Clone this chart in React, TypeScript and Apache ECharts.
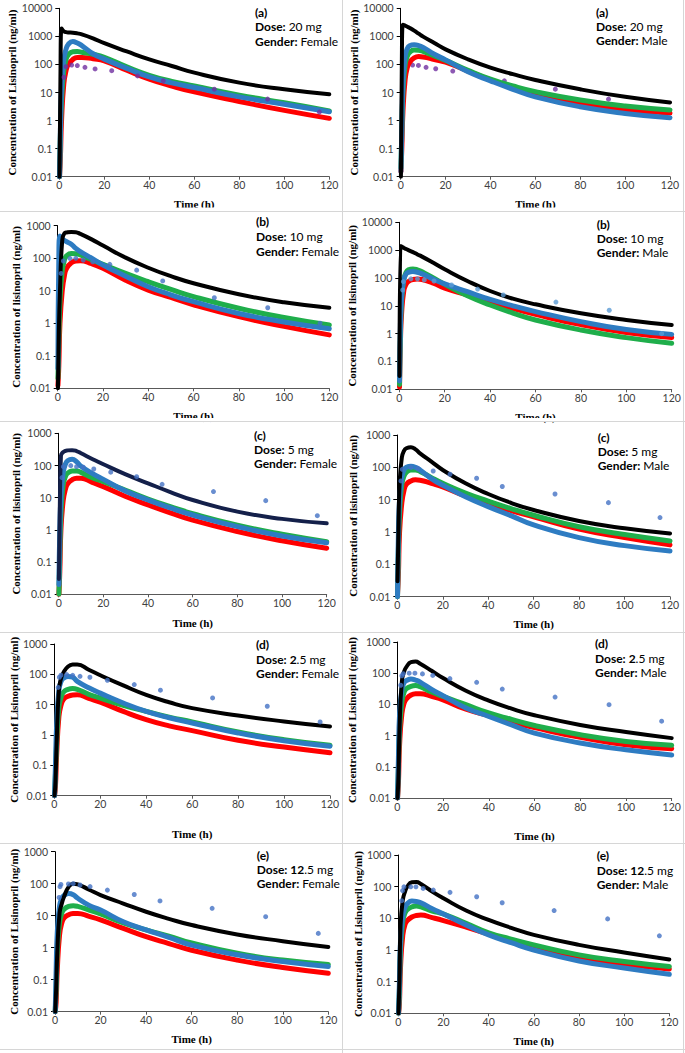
import React, { useEffect, useRef } from "react";
import * as echarts from "echarts";

// Model sampling times (h) shared by all simulated curves
const modelTimes = [0.1, 0.5, 1, 2, 3, 4, 6, 8, 10, 15, 20, 30, 40, 50, 60, 80, 100, 120];
const xTicks = [0, 20, 40, 60, 80, 100, 120];

// (a) 20 mg Female
const f20Black = [0.01, 30, 1900, 1500, 1420, 1380, 1350, 1280, 1180, 850, 570, 290, 152, 88, 51, 22.5, 13, 8.6];
const f20Blue = [0.01, 0.5, 15, 150, 350, 520, 650, 580, 470, 240, 155, 72, 36, 22, 15, 7, 3.8, 2.05];
const f20Green = [0.01, 0.3, 5, 60, 150, 220, 285, 290, 270, 230, 180, 82, 41, 25, 17, 8, 4.3, 2.2];
const f20Red = [0.01, 0.05, 1, 20, 60, 100, 150, 178, 178, 160, 135, 62, 30, 17, 10.5, 4.8, 2.3, 1.2];
const f20Obs = [[2.1, 35], [3, 83], [5.5, 95], [8, 91], [11.4, 79], [15.9, 69], [23.3, 60], [34.8, 39], [46.2, 26], [68.9, 13.1], [92.6, 5.8], [115.6, 2.0]];

// (a) 20 mg Male
const m20Black = [0.01, 100, 2600, 2400, 2200, 2000, 1600, 1250, 980, 580, 345, 152, 77, 45, 28, 13, 7, 4.4];
const m20Blue = [0.015, 0.5, 20, 200, 380, 460, 500, 470, 400, 230, 145, 55, 26, 13, 7, 3.1, 1.8, 1.27];
const m20Green = [0.02, 0.4, 10, 100, 200, 270, 325, 320, 290, 200, 140, 62, 30, 17, 10.7, 5.4, 3.3, 2.4];
const m20Red = [0.015, 0.1, 2, 30, 80, 120, 170, 190, 185, 150, 120, 58, 28, 15, 8.9, 4.1, 2.5, 1.85];
const m20Obs = [[5.3, 95], [7.9, 92], [11.3, 79], [15.6, 70], [23.2, 58], [34.8, 39], [46.2, 26], [68.9, 13.1], [92.6, 5.8], [115.6, 2.0]];

// (b) 10 mg Female
const f10Black = [0.01, 0.5, 10, 350, 590, 620, 640, 630, 560, 380, 245, 104, 51, 28, 17, 7.8, 4.4, 3.0];
const f10Blue = [0.04, 100, 480, 400, 350, 320, 270, 200, 160, 100, 62, 28, 13.3, 7.5, 4.6, 2.0, 1.1, 0.68];
const f10Green = [0.02, 0.3, 5, 40, 90, 120, 140, 138, 126, 90, 65, 34, 19, 11, 6.6, 2.9, 1.5, 0.88];
const f10Red = [0.012, 0.05, 1, 10, 30, 50, 72, 82, 84, 68, 49, 21, 10.5, 6.2, 3.7, 1.6, 0.8, 0.44];
const f10Obs = [[1.5, 34], [2.5, 82], [5.4, 99], [8, 99], [11.3, 88], [15.5, 78], [23, 65], [34.9, 43], [46.4, 20], [69.2, 6.1], [92.8, 3.0], [115.9, 1.0]];

// (b) 10 mg Male
const m10Black = [0.03, 1400, 1350, 1200, 1100, 1000, 850, 700, 584, 350, 205, 78, 34, 18, 11.3, 5.4, 3.1, 2.04];
const m10Blue = [0.02, 2, 20, 90, 140, 160, 170, 160, 140, 90, 61, 32, 17, 10, 6.2, 2.7, 1.4, 0.94];
const m10Green = [0.015, 1, 15, 90, 160, 195, 210, 195, 169, 100, 59, 23, 10.7, 5.5, 3.1, 1.35, 0.72, 0.45];
const m10Red = [0.012, 0.5, 5, 35, 60, 75, 88, 92, 88, 65, 43, 24.5, 14, 8, 4.9, 2.1, 1.1, 0.73];
const m10Obs = [[1.5, 37], [1.8, 74], [5.1, 93], [8, 93], [11, 85], [15.3, 78], [23, 56], [34.5, 40], [45.8, 24.6], [69, 13.6], [92.5, 6.9], [115.6, 1.0]];

// (c) 5 mg Female
const f5Black = [0.03, 5, 200, 260, 285, 295, 300, 280, 240, 160, 109, 53, 28, 15, 8.5, 3.7, 2.2, 1.6];
const f5Blue = [0.02, 1, 10, 60, 110, 140, 155, 130, 95, 57, 37, 16, 8.5, 4.8, 2.9, 1.26, 0.65, 0.4];
const f5Green = [0.01, 0.2, 3, 25, 45, 58, 67, 68, 61, 42, 31.5, 17, 9.1, 5.3, 3.2, 1.4, 0.73, 0.43];
const f5Red = [0.01, 0.05, 1, 8, 18, 27, 36, 40, 40, 30, 22, 10.9, 6.0, 3.4, 2.0, 0.89, 0.46, 0.27];
const f5Obs = [[1.5, 42], [2.1, 92], [5.4, 99], [8, 92], [11, 88], [15.7, 78], [23.3, 62], [34.9, 45], [46.3, 26], [69.3, 15.5], [92.7, 8.1], [115.8, 2.76]];

// (c) 5 mg Male
const m5Black = [0.03, 1, 30, 200, 330, 390, 420, 360, 270, 150, 83, 32, 15, 8, 4.8, 2.2, 1.3, 0.9];
const m5Blue = [0.01, 1, 10, 50, 85, 100, 108, 100, 83, 45, 28, 12.4, 6.1, 3.2, 1.65, 0.67, 0.38, 0.26];
const m5Green = [0.01, 0.3, 4, 30, 55, 70, 83, 83, 75, 48, 32, 16, 9, 5.3, 3.3, 1.46, 0.84, 0.53];
const m5Red = [0.012, 0.05, 1, 8, 20, 30, 38, 41, 40, 32, 25, 13, 7.6, 4.6, 2.96, 1.23, 0.67, 0.4];
const m5Obs = [[1.6, 38], [2.2, 87], [6, 98], [9, 93], [15.8, 77], [23.2, 61], [34.9, 46], [46.2, 25.6], [69.4, 15], [92.9, 8.1], [115.6, 2.8]];

// (d) 2.5 mg Female
const f25Black = [0.01, 0.03, 0.5, 30, 76, 115, 180, 210, 212, 142, 93, 43, 21, 12, 7.7, 4.4, 2.8, 1.9];
const f25Blue = [0.01, 0.1, 2, 30, 60, 75, 85, 80, 59, 36, 24, 11.4, 6.0, 3.7, 2.5, 1.17, 0.65, 0.43];
const f25Green = [0.01, 0.05, 0.5, 8, 18, 26, 32, 34, 32, 22, 16.6, 9.5, 6.0, 3.9, 2.7, 1.26, 0.7, 0.46];
const f25Red = [0.01, 0.02, 0.2, 4, 10, 15, 19, 21, 21.4, 16, 12.2, 6, 3.2, 2.0, 1.4, 0.67, 0.4, 0.26];
const f25Obs = [[1.7, 37], [2.2, 80], [2.9, 94], [5.4, 98], [8, 93], [11.2, 86], [15.5, 80], [23.1, 64], [34.8, 46], [46.2, 30], [68.9, 16.7], [92.7, 8.9], [115.7, 2.7]];

// (d) 2.5 mg Male
const m25Black = [0.01, 0.05, 2, 55, 115, 160, 225, 235, 200, 120, 70, 27.5, 13.2, 7.3, 4.5, 2.2, 1.3, 0.83];
const m25Blue = [0.01, 0.2, 5, 30, 50, 58, 65, 60, 52, 30, 19, 7.7, 4.1, 2.2, 1.2, 0.58, 0.35, 0.24];
const m25Green = [0.01, 0.1, 1.5, 12, 25, 32, 38, 40, 37, 25, 18, 9.8, 5.3, 3.3, 2.1, 1.07, 0.65, 0.49];
const m25Red = [0.01, 0.03, 0.5, 5, 11, 15, 20, 22, 22, 18, 14, 7, 4.4, 2.7, 1.8, 0.88, 0.51, 0.38];
const m25Obs = [[1.5, 41], [2, 83], [2.6, 96], [5.2, 100], [7.7, 100], [11, 95], [15.5, 85], [23, 67], [34.7, 51], [45.9, 31], [69, 17.2], [92.6, 9.8], [115.6, 2.9]];

// (e) 12.5 mg Female
const f125Black = [0.01, 0.05, 0.7, 12, 24, 40, 80, 100, 95, 65, 44, 24, 13.3, 8, 5.1, 2.6, 1.6, 1.05];
const f125Blue = [0.01, 0.2, 3, 20, 35, 43, 49, 45, 35, 21, 15, 6.5, 3.6, 2.1, 1.2, 0.6, 0.37, 0.26];
const f125Green = [0.01, 0.05, 0.7, 6, 12, 16, 19.5, 20.5, 19.5, 15, 11.3, 6, 3.6, 2.3, 1.4, 0.67, 0.41, 0.3];
const f125Red = [0.01, 0.02, 0.2, 2.5, 6, 8.5, 10.8, 11.7, 11.8, 9.5, 7.4, 4.0, 2.2, 1.35, 0.83, 0.41, 0.24, 0.16];
const f125Obs = [[1.8, 37], [2.2, 81], [2.6, 95], [5.9, 98], [8, 100], [11, 91], [15.4, 81], [23, 63], [34.8, 46], [46.1, 29], [69, 17], [92.5, 9.3], [115.6, 2.8]];

// (e) 12.5 mg Male
const m125Black = [0.01, 0.1, 6, 38, 70, 100, 138, 140, 122, 70, 43, 17.6, 8.9, 5, 3.0, 1.45, 0.83, 0.5];
const m125Blue = [0.01, 0.1, 2, 12, 22, 29, 35, 34, 31, 20, 13.7, 6.2, 3.0, 1.7, 1.0, 0.45, 0.27, 0.17];
const m125Green = [0.01, 0.05, 1, 8, 15, 19, 23, 24.5, 23, 17, 13.7, 7, 3.5, 2.2, 1.45, 0.7, 0.43, 0.3];
const m125Red = [0.01, 0.02, 0.3, 3, 6.5, 8.5, 11, 12.3, 12.7, 10.5, 8.5, 5.3, 3.2, 2.0, 1.2, 0.59, 0.36, 0.25];
const m125Obs = [[1.5, 36], [1.9, 75], [2.5, 99], [5.5, 99], [7.8, 99], [11, 88], [15.5, 78], [22.9, 66], [34.7, 48], [46, 31], [69, 17.6], [92.7, 9.6], [115.6, 2.8]];

const C = {
  black: "#000000",
  navy: "#14204a",
  blue: "#2e7cc2",
  green: "#1fae4b",
  red: "#ff0000",
  purple: "#7030a0",
  obsBlue: "#4472c4",
  obsLight: "#5b9bd5",
};

const TITLE_L = "Concentration of Lisinopril (ng/ml)";
const TITLE_l = "Concentration of lisinopril (ng/ml)";

type Panel = {
  tag: string;
  dose: [string, string];
  gender: string;
  yTitle: string;
  yMax: number;
  black: number[];
  blue: number[];
  green: number[];
  red: number[];
  obs: number[][];
  blackColor: string;
  obsColor: string;
  obsBelow?: boolean;
  grid: { left: number; top: number; width: number; height: number };
  yNameGap: number;
  xNameGap: number;
  ann: { x: number; y: number[] };
};

const panels: Panel[] = [
  { tag: "(a)", dose: ["Dose: ", "20 mg"], gender: "Female", yTitle: TITLE_L, yMax: 10000, black: f20Black, blue: f20Blue, green: f20Green, red: f20Red, obs: f20Obs, blackColor: C.black, obsColor: C.purple, grid: { left: 59.3, top: 8.3, width: 270, height: 168.4 }, yNameGap: 38, xNameGap: 22, ann: { x: 255, y: [12.7, 26.7, 41] } },
  { tag: "(a)", dose: ["Dose: ", "20 mg"], gender: "Male", yTitle: TITLE_L, yMax: 10000, black: m20Black, blue: m20Blue, green: m20Green, red: m20Red, obs: m20Obs, blackColor: C.black, obsColor: C.purple, obsBelow: true, grid: { left: 400.7, top: 8.3, width: 269.3, height: 168.4 }, yNameGap: 38, xNameGap: 22, ann: { x: 596, y: [12.7, 26.5, 40.7] } },
  { tag: "(b)", dose: ["Dose: ", "10 mg"], gender: "Female", yTitle: TITLE_l, yMax: 1000, black: f10Black, blue: f10Blue, green: f10Green, red: f10Red, obs: f10Obs, blackColor: C.black, obsColor: C.obsBlue, grid: { left: 57.7, top: 225.7, width: 271.6, height: 162.6 }, yNameGap: 36.5, xNameGap: 22, ann: { x: 256, y: [221.7, 236.7, 251] } },
  { tag: "(b)", dose: ["Dose: ", "10 mg"], gender: "Male", yTitle: TITLE_l, yMax: 10000, black: m10Black, blue: m10Blue, green: m10Green, red: m10Red, obs: m10Obs, blackColor: C.black, obsColor: C.obsLight, grid: { left: 399.3, top: 222.3, width: 272.4, height: 167 }, yNameGap: 40, xNameGap: 22, ann: { x: 596.7, y: [224, 238, 252] } },
  { tag: "(c)", dose: ["Dose: ", "5 mg"], gender: "Female", yTitle: TITLE_l, yMax: 1000, black: f5Black, blue: f5Blue, green: f5Green, red: f5Red, obs: f5Obs, blackColor: C.navy, obsColor: C.obsBlue, grid: { left: 58.7, top: 433.3, width: 268, height: 161 }, yNameGap: 37.5, xNameGap: 23, ann: { x: 254, y: [435.7, 449, 463] } },
  { tag: "(c)", dose: ["Dose: ", "5 mg"], gender: "Male", yTitle: TITLE_l, yMax: 1000, black: m5Black, blue: m5Blue, green: m5Green, red: m5Red, obs: m5Obs, blackColor: C.black, obsColor: C.obsBlue, grid: { left: 397.3, top: 435, width: 272.7, height: 161.7 }, yNameGap: 38.5, xNameGap: 22, ann: { x: 597.7, y: [437.7, 451, 465.7] } },
  { tag: "(d)", dose: ["Dose: 2", ".5 mg"], gender: "Female", yTitle: TITLE_L, yMax: 1000, black: f25Black, blue: f25Blue, green: f25Green, red: f25Red, obs: f25Obs, blackColor: C.black, obsColor: C.obsBlue, grid: { left: 54.3, top: 644, width: 275.7, height: 151.7 }, yNameGap: 35, xNameGap: 33, ann: { x: 256, y: [644, 659.7, 673.7] } },
  { tag: "(d)", dose: ["Dose: 2", ".5 mg"], gender: "Male", yTitle: TITLE_L, yMax: 1000, black: m25Black, blue: m25Blue, green: m25Green, red: m25Red, obs: m25Obs, blackColor: C.black, obsColor: C.obsBlue, grid: { left: 397.3, top: 642, width: 274.4, height: 156 }, yNameGap: 39.5, xNameGap: 32, ann: { x: 595, y: [643, 658.7, 672.3] } },
  { tag: "(e)", dose: ["Dose: 12", ".5 mg"], gender: "Female", yTitle: TITLE_L, yMax: 1000, black: f125Black, blue: f125Blue, green: f125Green, red: f125Red, obs: f125Obs, blackColor: C.black, obsColor: C.obsBlue, grid: { left: 55, top: 851.7, width: 273.3, height: 160 }, yNameGap: 34, xNameGap: 22, ann: { x: 256.7, y: [855, 869.3, 883.3] } },
  { tag: "(e)", dose: ["Dose: 12", ".5 mg"], gender: "Male", yTitle: TITLE_L, yMax: 1000, black: m125Black, blue: m125Blue, green: m125Green, red: m125Red, obs: m125Obs, blackColor: C.black, obsColor: C.obsBlue, grid: { left: 398.3, top: 855, width: 271, height: 158.3 }, yNameGap: 32.5, xNameGap: 22, ann: { x: 596.7, y: [855, 870, 884.3] } },
];

const fmtLog = (v: number) => (v >= 1 ? String(Math.round(v)) : String(Number(v.toPrecision(1))));

function buildOption() {
  const serif = "'Liberation Serif', 'Times New Roman', serif";
  const sans = "Lato, 'Open Sans', sans-serif";
  const grid = panels.map((p) => ({ ...p.grid, containLabel: false, outerBoundsMode: "none" }));
  const xAxis = panels.map((p, i) => ({
    gridIndex: i,
    type: "value",
    min: xTicks[0],
    max: xTicks[xTicks.length - 1],
    interval: xTicks[1] - xTicks[0],
    name: "Time (h)",
    nameLocation: "middle",
    nameGap: p.xNameGap,
    nameTextStyle: { fontFamily: serif, fontWeight: "bold", fontSize: 11, color: "#000" },
    axisLine: { show: true, onZero: false, lineStyle: { color: "#595959", width: 1 } },
    axisTick: { show: true, length: 3, lineStyle: { color: "#595959" } },
    axisLabel: { fontFamily: sans, fontSize: 10.5, color: "#404040", margin: 3 },
    splitLine: { show: false },
  }));
  const yAxis = panels.map((p, i) => ({
    gridIndex: i,
    type: "log",
    logBase: 10,
    min: 0.01,
    max: p.yMax,
    splitNumber: Math.round(Math.log10(p.yMax / 0.01)),
    name: p.yTitle,
    nameLocation: "middle",
    nameGap: p.yNameGap,
    nameTextStyle: { fontFamily: serif, fontWeight: "bold", fontSize: 11, color: "#000" },
    axisLine: { show: true, onZero: false, lineStyle: { color: "#000", width: 1 } },
    axisTick: { show: true, length: 4, lineStyle: { color: "#000" } },
    minorTick: { show: false },
    axisLabel: { fontFamily: sans, fontSize: 10.5, color: "#404040", margin: 7, formatter: fmtLog, showMinLabel: true, showMaxLabel: true },
    splitLine: { show: false },
  }));

  const series: any[] = [];
  panels.forEach((p, i) => {
    const curves: [number[], string, number][] = [
      [p.red, C.red, 5],
      [p.green, C.green, 5],
      [p.blue, C.blue, 5],
      [p.black, p.blackColor, 4],
    ];
    curves.forEach(([vals, color, w]) => {
      series.push({
        type: "line",
        xAxisIndex: i,
        yAxisIndex: i,
        data: modelTimes.map((t, k) => [t, vals[k]]),
        showSymbol: false,
        smooth: 0.5,
        lineStyle: { color, width: w, join: "round", cap: "round" },
        itemStyle: { color },
        z: 2,
        silent: true,
      });
    });
    series.push({
      type: "scatter",
      xAxisIndex: i,
      yAxisIndex: i,
      data: p.obs,
      symbol: "circle",
      symbolSize: 5,
      itemStyle: { color: p.obsColor },
      z: p.obsBelow ? 1 : 3,
      silent: true,
    });
  });

  const graphic: any[] = [];
  // white strips cutting the x-axis titles of the upper rows
  graphic.push({ type: "rect", shape: { x: 0, y: 207.6, width: 685, height: 4 }, style: { fill: "#fff" }, z: 50 });
  graphic.push({ type: "rect", shape: { x: 0, y: 418, width: 685, height: 3.5 }, style: { fill: "#fff" }, z: 50 });
  // panel borders
  const border = { stroke: "#d6d6d6", lineWidth: 1 };
  [211.5, 421.5, 632.5, 843.5, 1049.5].forEach((y) =>
    graphic.push({ type: "line", shape: { x1: 0, y1: y, x2: 685, y2: y }, style: border, z: 60 })
  );
  graphic.push({ type: "line", shape: { x1: 342.5, y1: 0, x2: 342.5, y2: 1053 }, style: border, z: 60 });
  graphic.push({ type: "line", shape: { x1: 683.5, y1: 0, x2: 683.5, y2: 1053 }, style: border, z: 60 });

  const rich = {
    b: { fontFamily: sans, fontSize: 12, fontWeight: "bold", fill: "#000" },
    n: { fontFamily: sans, fontSize: 12, fontWeight: "normal", fill: "#000" },
  };
  panels.forEach((p) => {
    graphic.push({ type: "text", x: p.ann.x, y: p.ann.y[0], z: 70, style: { text: p.tag, fontFamily: sans, fontSize: 12, fontWeight: "bold", fill: "#000", verticalAlign: "middle" } });
    graphic.push({ type: "text", x: p.ann.x, y: p.ann.y[1], z: 70, style: { text: `{b|${p.dose[0]}}{n|${p.dose[1]}}`, rich, verticalAlign: "middle" } });
    graphic.push({ type: "text", x: p.ann.x, y: p.ann.y[2], z: 70, style: { text: `{b|Gender: }{n|${p.gender}}`, rich, verticalAlign: "middle" } });
  });

  return { animation: false, backgroundColor: "#ffffff", grid, xAxis, yAxis, series, graphic };
}

export default function App() {
  const ref = useRef<HTMLDivElement>(null);
  useEffect(() => {
    if (!ref.current) return;
    const chart = echarts.init(ref.current, undefined, { renderer: "svg" });
    chart.setOption(buildOption() as any);
    return () => chart.dispose();
  }, []);
  return (
    <div
      ref={ref}
      style={{ position: "fixed", left: 0, top: 0, width: 685, height: 1053, background: "#fff" }}
    />
  );
}
